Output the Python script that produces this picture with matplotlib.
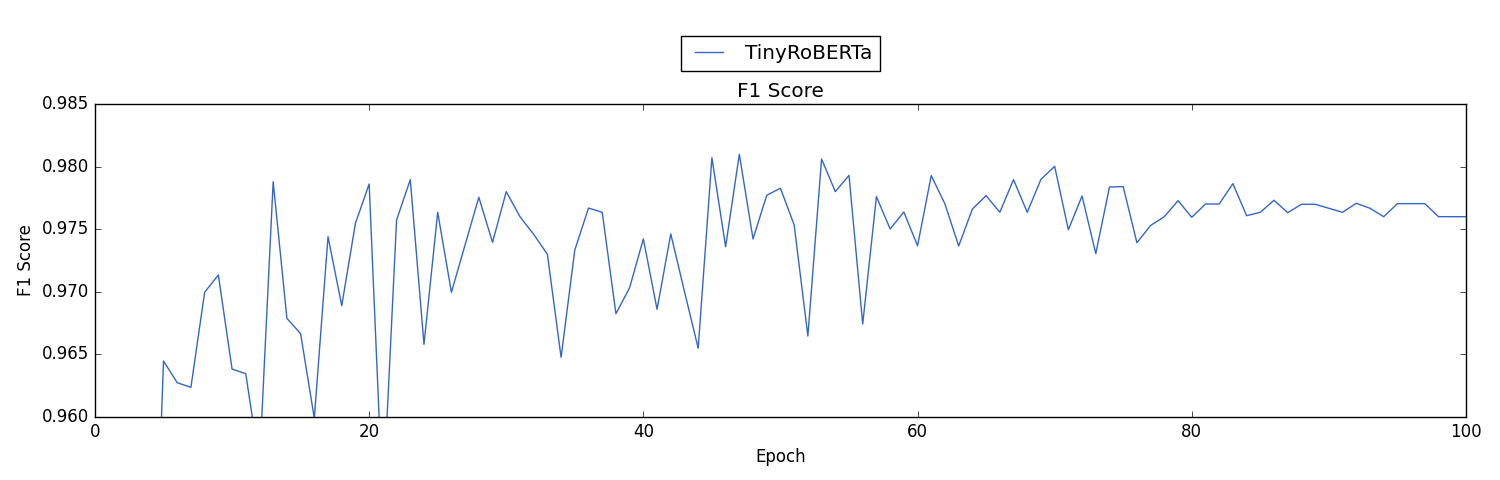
import matplotlib
matplotlib.use("Agg")
import matplotlib.pyplot as plt

epochs = list(range(1, 101))
f1_scores = [
    0.900, 0.920, 0.930, 0.934, 0.96447, 0.96274, 0.96237, 0.96996, 0.97134, 0.96383,
    0.96346, 0.9562, 0.97879, 0.96788, 0.96666, 0.9599, 0.97440, 0.96889, 0.97547, 0.97861,
    0.9530, 0.97573, 0.97896, 0.96580, 0.97635, 0.96996, 0.97376, 0.97755, 0.97395, 0.97800,
    0.97600, 0.97459, 0.97300, 0.96477, 0.97334, 0.97669, 0.97635, 0.96825, 0.97033, 0.97422,
    0.96860, 0.97462, 0.97002, 0.96549, 0.98071, 0.97360, 0.98098, 0.97422, 0.97771, 0.97827,
    0.97534, 0.96647, 0.98061, 0.97800, 0.97930, 0.96743, 0.97760, 0.97502, 0.97637, 0.97368,
    0.97928, 0.97701, 0.97366, 0.97661, 0.97768, 0.97635, 0.97896, 0.97635, 0.97898, 0.98002,
    0.97496, 0.97765, 0.97305, 0.97837, 0.97840, 0.97392, 0.97530, 0.97600, 0.97728, 0.97595,
    0.97701, 0.97701, 0.97864, 0.97608, 0.97635, 0.97731, 0.97632, 0.97699, 0.97699, 0.97667,
    0.97635, 0.97707, 0.97667, 0.97600, 0.97704, 0.97704, 0.97704, 0.97600, 0.97600, 0.97600,
]
series_label = "TinyRoBERTa"
y_ticks = [0.960, 0.965, 0.970, 0.975, 0.980, 0.985]

plt.style.use("classic")
fig = plt.figure(figsize=(15, 4.8), dpi=100, facecolor="white")
ax = fig.add_axes([0.0633, 0.13125, 0.9140, 0.6521])
ax.plot(epochs, f1_scores, color="#3366cc", linewidth=1.0, label=series_label)
ax.set_xlim(0, 100)
ax.set_ylim(0.960, 0.985)
ax.set_yticks(y_ticks)
ax.set_yticklabels([f"{t:.3f}" for t in y_ticks])
ax.set_xlabel("Epoch", fontsize=12)
ax.set_ylabel("F1 Score", fontsize=12)
ax.set_title("F1 Score", fontsize=14.4)
ax.tick_params(labelsize=12)
leg = ax.legend(loc="lower center", bbox_to_anchor=(0.5, 1.107), fontsize=14.4,
                borderaxespad=0.0, fancybox=False)
fig.savefig("out.png", dpi=100, facecolor="white")
